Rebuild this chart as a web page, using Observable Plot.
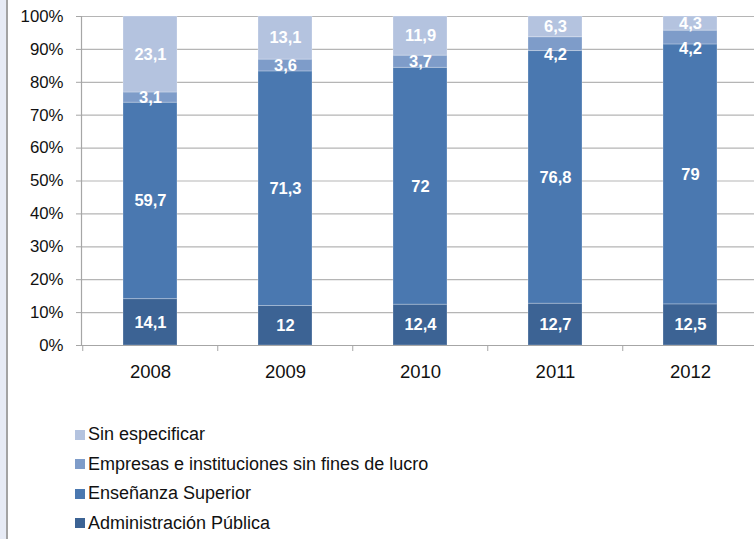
<!DOCTYPE html>
<html>
<head>
<meta charset="utf-8">
<script src="https://cdn.jsdelivr.net/npm/d3@7"></script>
<script src="https://cdn.jsdelivr.net/npm/@observablehq/plot@0.6"></script>
<style>
  html, body { margin: 0; padding: 0; background: #fff; }
  #wrap { position: relative; width: 754px; height: 539px; overflow: hidden; font-family: "Liberation Sans", Arial, sans-serif; }
  #strip { position: absolute; left: 0; top: 0; width: 6px; height: 539px; background: #e7ebf5; border-right: 2px solid #a3a3a3; }
  #chart { position: absolute; left: 0; top: 0; }
  #legend { position: absolute; left: 75px; top: 420px; font-size: 18px; color: #111; line-height: 29.5px; }
  .item { display: flex; align-items: center; white-space: nowrap; }
  .sw { width: 10px; height: 10px; margin-right: 3px; flex: none; }
</style>
</head>
<body>
<div id="wrap">
  <div id="strip"></div>
  <div id="chart"></div>
  <div id="legend"></div>
</div>
<script>
const years = ["2008", "2009", "2010", "2011", "2012"];
const series = ["Administración Pública", "Enseñanza Superior", "Empresas e instituciones sin fines de lucro", "Sin especificar"];
const colors = ["#3c6394", "#4a78b0", "#7e9cc9", "#b4c3df"];
const administracion = [14.1, 12, 12.4, 12.7, 12.5];
const ensenanza = [59.7, 71.3, 72, 76.8, 79];
const empresas = [3.1, 3.6, 3.7, 4.2, 4.2];
const sinEspecificar = [23.1, 13.1, 11.9, 6.3, 4.3];
const yTicks = [0, 10, 20, 30, 40, 50, 60, 70, 80, 90, 100];

const seriesValues = [administracion, ensenanza, empresas, sinEspecificar];
const data = [];
years.forEach((yr, i) => {
  series.forEach((s, j) => {
    data.push({year: yr, series: s, value: seriesValues[j][i], idx: i, sj: j});
  });
});
const fmt = v => String(v).replace(".", ",");
// labels of a thin segment squeezed under a thin top segment are pushed down (collision rule)
const pushed = d => d.sj === 2 && sinEspecificar[d.idx] < 10;

const W = 754, H = 400;
const left = 81.25, right = 758.75;
const step = (right - left) / 5;
const labelFont = {fill: "white", fontWeight: "bold", fontSize: 16.5, fontFamily: "'Liberation Sans', Arial, sans-serif"};

const plot = Plot.plot({
  width: W,
  height: H,
  marginLeft: 81,
  marginRight: 0,
  marginTop: 16,
  marginBottom: 55,
  style: {fontFamily: "'Liberation Sans', Arial, sans-serif", background: "transparent", overflow: "visible"},
  x: {domain: years, range: [left, right], paddingInner: 0.6, paddingOuter: 0.3, align: 0.5, label: null},
  y: {domain: [0, 100], range: [345, 16], label: null},
  color: {domain: series, range: colors},
  marks: [
    Plot.ruleY(yTicks, {stroke: "#b5b5b5", strokeWidth: 1.2}),
    Plot.barY(data, Plot.stackY({x: "year", y: "value", fill: "series", z: "series", order: series, stroke: "#ffffff", strokeOpacity: 0.25, strokeWidth: 1})),
    Plot.text(data, Plot.stackY({x: "year", y: "value", z: "series", order: series, text: d => pushed(d) ? null : fmt(d.value), ariaLabel: "values", ...labelFont})),
    Plot.text(data, Plot.stackY({x: "year", y: "value", z: "series", order: series, text: d => pushed(d) ? fmt(d.value) : null, dy: 11, ariaLabel: "values", ...labelFont})),
    Plot.ruleY([0], {stroke: "#a6a6a6", strokeWidth: 1.2}),
    Plot.frame({anchor: "left", stroke: "#a6a6a6", strokeWidth: 1.2}),
    Plot.axisX({ticks: years, tickSize: 6, text: null, dx: -step / 2, stroke: "#a6a6a6", label: null}),
    Plot.axisX({ticks: years, tickSize: 0, tickPadding: 19, fontSize: 18.5, fill: "#111", label: null}),
    Plot.axisY({ticks: yTicks, tickSize: 5, tickPadding: 13, tickFormat: d => d + "%", fontSize: 16.8, fill: "#111", stroke: "#a6a6a6", label: null})
  ]
});
document.getElementById("chart").appendChild(plot);

// narrow the bar value labels horizontally (condensed look of the original)
plot.querySelectorAll('g[aria-label="values"] text').forEach(el => {
  const b = el.getBBox();
  const cx = b.x + b.width / 2;
  const t = el.getAttribute("transform") || "";
  el.setAttribute("transform", `${t} translate(${cx},0) scale(0.82,1) translate(${-cx},0)`);
});

const legend = document.getElementById("legend");
[...series].reverse().forEach((s) => {
  const j = series.indexOf(s);
  const row = document.createElement("div");
  row.className = "item";
  const sw = document.createElement("span");
  sw.className = "sw";
  sw.style.background = colors[j];
  const t = document.createElement("span");
  t.textContent = s;
  row.appendChild(sw);
  row.appendChild(t);
  legend.appendChild(row);
});
</script>
</body>
</html>
